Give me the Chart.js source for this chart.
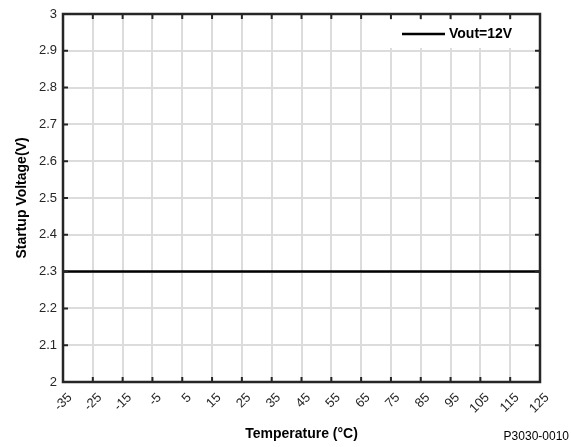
<!DOCTYPE html>
<html>
<head>
<meta charset="utf-8">
<script src="https://cdn.jsdelivr.net/npm/chart.js@4"></script>
<style>
  html, body { margin: 0; padding: 0; background: #fff; }
  #wrap { width: 571px; height: 447px; }
</style>
</head>
<body>
<div id="wrap"><canvas id="c" width="571" height="447"></canvas></div>
<script>
// data
const temperatures = [-35, -25, -15, -5, 5, 15, 25, 35, 45, 55, 65, 75, 85, 95, 105, 115, 125];
const startupVoltage = [2.3, 2.3, 2.3, 2.3, 2.3, 2.3, 2.3, 2.3, 2.3, 2.3, 2.3, 2.3, 2.3, 2.3, 2.3, 2.3, 2.3];
const seriesLabel = "Vout=12V";
const xTitle = "Temperature (°C)";
const yTitle = "Startup Voltage(V)";
const figureCode = "P3030-0010";

const FONT = "Arial, 'Liberation Sans', sans-serif";

// inward ticks, frame, legend and figure code
const framePlugin = {
  id: "frame",
  afterDatasetsDraw(chart) {
    const { ctx, chartArea: a, scales } = chart;
    ctx.save();

    // legend box, top right inside the plot
    const ds = chart.data.datasets[0];
    ctx.fillStyle = "#fff";
    ctx.fillRect(a.right - 152, a.top + 6, 146, 28);
    ctx.strokeStyle = ds.borderColor;
    ctx.lineWidth = 2.5;
    ctx.beginPath();
    ctx.moveTo(a.right - 138, a.top + 20);
    ctx.lineTo(a.right - 95, a.top + 20);
    ctx.stroke();
    ctx.fillStyle = "#000";
    ctx.font = "bold 14px " + FONT;
    ctx.textAlign = "left";
    ctx.textBaseline = "middle";
    ctx.fillText(ds.label, a.right - 91, a.top + 20);

    ctx.strokeStyle = "#262626";
    ctx.lineWidth = 2;
    ctx.beginPath();
    scales.x.ticks.forEach((t) => {
      const px = scales.x.getPixelForValue(t.value);
      ctx.moveTo(px, a.bottom); ctx.lineTo(px, a.bottom - 5);
      ctx.moveTo(px, a.top); ctx.lineTo(px, a.top + 5);
    });
    scales.y.ticks.forEach((t) => {
      const py = scales.y.getPixelForValue(t.value);
      ctx.moveTo(a.left, py); ctx.lineTo(a.left + 5, py);
      ctx.moveTo(a.right, py); ctx.lineTo(a.right - 5, py);
    });
    ctx.stroke();
    ctx.lineWidth = 2.5;
    ctx.strokeRect(a.left, a.top, a.right - a.left, a.bottom - a.top);

    ctx.font = "12px " + FONT;
    ctx.textAlign = "right";
    ctx.fillText(figureCode, 569, 437);
    ctx.restore();
  }
};

new Chart(document.getElementById("c"), {
  type: "line",
  data: {
    datasets: [{
      label: seriesLabel,
      data: temperatures.map((t, i) => ({ x: t, y: startupVoltage[i] })),
      borderColor: "#000",
      backgroundColor: "#000",
      borderWidth: 2.5,
      pointRadius: 0,
      fill: false
    }]
  },
  options: {
    responsive: false,
    animation: false,
    layout: { padding: { top: 14, right: 31, left: 0, bottom: 0 } },
    plugins: {
      legend: { display: false },
      tooltip: { enabled: false }
    },
    scales: {
      x: {
        type: "linear",
        min: -35,
        max: 125,
        afterFit(s) { s.height = 65; },
        afterBuildTicks(s) { s.ticks = temperatures.map((v) => ({ value: v })); },
        ticks: {
          maxRotation: 45,
          minRotation: 45,
          padding: 8,
          labelOffset: 7,
          color: "#262626",
          font: { family: FONT, size: 13 }
        },
        grid: { color: "#dcdcdc", lineWidth: 2, drawTicks: false },
        border: { display: false },
        title: {
          display: true,
          text: xTitle,
          color: "#000",
          padding: { top: 0, bottom: 4 },
          font: { family: FONT, size: 14, weight: "bold" }
        }
      },
      y: {
        min: 2,
        max: 3,
        afterFit(s) { s.width = 63; },
        ticks: {
          stepSize: 0.1,
          padding: 6,
          color: "#262626",
          font: { family: FONT, size: 13 },
          callback: (v) => Number(v.toFixed(1)).toString()
        },
        grid: { color: "#dcdcdc", lineWidth: 2, drawTicks: false },
        border: { display: false },
        title: {
          display: true,
          text: yTitle,
          color: "#000",
          padding: { top: 14, bottom: 0 },
          font: { family: FONT, size: 14, weight: "bold" }
        }
      }
    }
  },
  plugins: [framePlugin]
});
</script>
</body>
</html>
